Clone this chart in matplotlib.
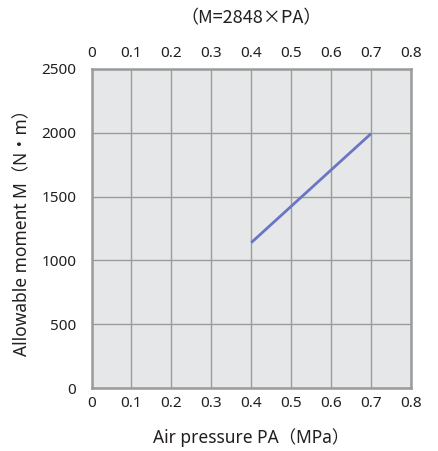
import numpy as np
import matplotlib
matplotlib.use("Agg")
import matplotlib.pyplot as plt

plt.rcParams['font.family'] = ['Noto Sans', 'Noto Sans CJK JP', 'DejaVu Sans']

pressure = [0.4, 0.7]
moment = [1139.2, 1993.6]
xticks = [0, 0.1, 0.2, 0.3, 0.4, 0.5, 0.6, 0.7, 0.8]
xticklabels = ['0', '0.1', '0.2', '0.3', '0.4', '0.5', '0.6', '0.7', '0.8']
yticks = [0, 500, 1000, 1500, 2000, 2500]

fig = plt.figure(figsize=(4.39, 4.51), dpi=100)
ax = fig.add_axes([91.5/439, 1-388/451, (411-91.5)/439, (388-69)/451])
ax.set_facecolor('#e6e7e8')
ax.plot(pressure, moment, color='#6a76c4', lw=2.0, solid_capstyle='butt', zorder=3)
ax.set_xlim(0, 0.8)
ax.set_ylim(0, 2500)
ax.set_xticks(xticks)
ax.set_xticklabels(xticklabels)
ax.set_yticks(yticks)
ax.grid(True, color='#9b9b9b', lw=1.0)
ax.set_axisbelow(True)
for s in ax.spines.values():
    s.set_color('#9b9b9b')
    s.set_linewidth(1.8)
ax.tick_params(length=0, labelsize=11, colors='#231f20', pad=6)
ax.tick_params(axis='y', pad=11)

top = ax.secondary_xaxis('top')
top.set_xticks(xticks)
top.set_xticklabels(xticklabels)
top.tick_params(length=0, labelsize=11, colors='#231f20', pad=6)
for s in top.spines.values():
    s.set_visible(False)

ax.set_xlabel('Air pressure PA（MPa）', fontsize=12.5, color='#231f20', labelpad=12)
ax.set_ylabel('Allowable moment M（N・m）', fontsize=12.5, color='#231f20', labelpad=7)
fig.text((91.5+411)/2/439, 1-18/451, '（M=2848×PA）', ha='center', va='center',
         fontsize=13, color='#231f20', family=['Noto Sans CJK JP', 'DejaVu Sans'])

fig.savefig('out.png', dpi=100)
